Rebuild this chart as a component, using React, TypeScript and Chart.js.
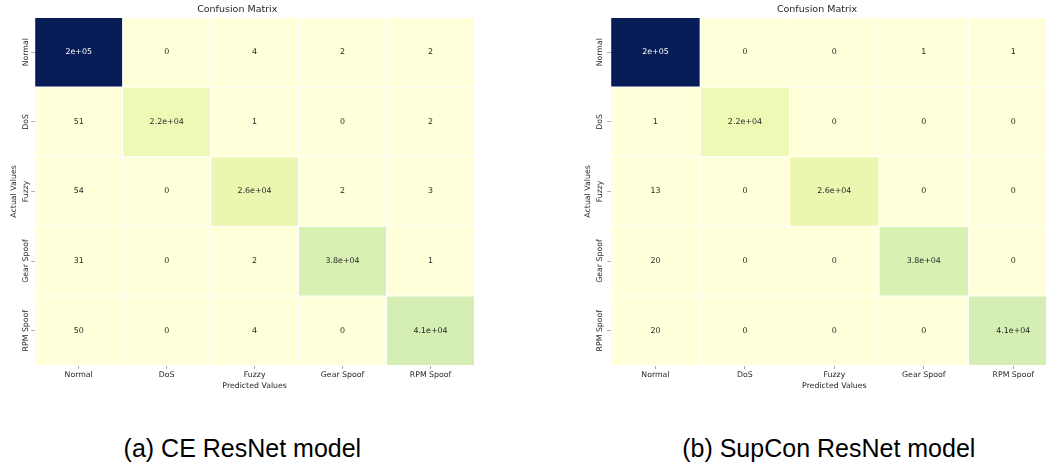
import React, { useEffect, useRef } from "react";
import { Chart, registerables } from "chart.js";

Chart.register(...registerables);

// ---- data ----
const predictedLabels = ["Normal", "DoS", "Fuzzy", "Gear Spoof", "RPM Spoof"];
const actualLabels = ["Normal", "DoS", "Fuzzy", "Gear Spoof", "RPM Spoof"];

// CE ResNet model (rows = actual, cols = predicted)
const ceNormal = [200000, 0, 4, 2, 2];
const ceDoS = [51, 22000, 1, 0, 2];
const ceFuzzy = [54, 0, 26000, 2, 3];
const ceGear = [31, 0, 2, 38000, 1];
const ceRPM = [50, 0, 4, 0, 41000];

// SupCon ResNet model
const scNormal = [200000, 0, 0, 1, 1];
const scDoS = [1, 22000, 0, 0, 0];
const scFuzzy = [13, 0, 26000, 0, 0];
const scGear = [20, 0, 0, 38000, 0];
const scRPM = [20, 0, 0, 0, 41000];

const chartTitle = "Confusion Matrix";
const xTitle = "Predicted Values";
const yTitle = "Actual Values";
const captionA = "(a) CE ResNet model";
const captionB = "(b) SupCon ResNet model";

// ---- styling helpers ----
const YLGNBU = ["#ffffd9", "#edf8b1", "#c7e9b4", "#7fcdbb", "#41b6c4", "#1d91c0", "#225ea8", "#253494", "#081d58"];

function hexToRgb(h: string) {
  return [parseInt(h.slice(1, 3), 16), parseInt(h.slice(3, 5), 16), parseInt(h.slice(5, 7), 16)];
}

function cmap(t: number) {
  const tt = Math.max(0, Math.min(1, t)) * (YLGNBU.length - 1);
  const i = Math.min(Math.floor(tt), YLGNBU.length - 2);
  const f = tt - i;
  const a = hexToRgb(YLGNBU[i]);
  const b = hexToRgb(YLGNBU[i + 1]);
  return a.map((v, k) => Math.round(v + (b[k] - v) * f));
}

function luminance(c: number[]) {
  const l = c.map((v) => {
    const s = v / 255;
    return s <= 0.03928 ? s / 12.92 : Math.pow((s + 0.055) / 1.055, 2.4);
  });
  return 0.2126 * l[0] + 0.7152 * l[1] + 0.0722 * l[2];
}

function fmt2g(v: number): string {
  if (v === 0) return "0";
  let e = Math.floor(Math.log10(Math.abs(v)));
  if (e < -4 || e >= 2) {
    let m = Number((v / Math.pow(10, e)).toFixed(1));
    if (Math.abs(m) >= 10) {
      m = m / 10;
      e += 1;
    }
    return String(m) + "e" + (e < 0 ? "-" : "+") + String(Math.abs(e)).padStart(2, "0");
  }
  return String(Number(v.toPrecision(2)));
}

const FONT = "DejaVu Sans";
const TEXT = "#262626";

type MatrixProps = {
  rows: number[][];
  left: number;
  width: number;
  padRight: number;
  yTitlePad: number;
  yTickPad: number;
};

function Matrix({ rows, left, width, padRight, yTitlePad, yTickPad }: MatrixProps) {
  const ref = useRef<HTMLCanvasElement | null>(null);

  useEffect(() => {
    if (!ref.current) return;
    const vmax = Math.max(...rows.flat());
    const colorOf = (v: number) => cmap(v / vmax);

    const datasets = rows.map((row, r) => ({
      label: actualLabels[r],
      data: row.map(() => [r, r + 1]),
      backgroundColor: row.map((v) => {
        const c = colorOf(v);
        return `rgb(${c[0]},${c[1]},${c[2]})`;
      }),
      borderColor: "#ffffff",
      borderWidth: 0.5,
      borderSkipped: false as const,
      inflateAmount: 0,
      barPercentage: 1,
      categoryPercentage: 1,
      grouped: false,
    }));

    const annot = {
      id: "annot",
      afterDatasetsDraw(chart: any) {
        const ctx = chart.ctx;
        ctx.save();
        ctx.font = `7.9px "${FONT}"`;
        ctx.textAlign = "center";
        ctx.textBaseline = "middle";
        rows.forEach((row, r) => {
          const meta = chart.getDatasetMeta(r);
          meta.data.forEach((el: any, j: number) => {
            const p = el.getProps(["x", "y", "base"], true);
            const v = row[j];
            const lum = luminance(colorOf(v));
            ctx.fillStyle = lum > 0.408 ? "#262626" : "#ffffff";
            ctx.fillText(fmt2g(v), p.x, (p.y + p.base) / 2);
          });
        });
        ctx.restore();
      },
    };

    const chart = new Chart(ref.current, {
      type: "bar",
      data: { labels: predictedLabels, datasets: datasets as any },
      plugins: [annot],
      options: {
        animation: false,
        responsive: true,
        maintainAspectRatio: false,
        events: [],
        layout: { padding: { left: 0, right: padRight, top: 0, bottom: 0 } },
        plugins: {
          legend: { display: false },
          tooltip: { enabled: false },
          title: {
            display: true,
            text: chartTitle,
            color: TEXT,
            font: { family: FONT, size: 9.5, weight: "normal" },
            padding: { top: 4, bottom: 2 },
          },
        },
        scales: {
          x: {
            type: "category",
            offset: true,
            border: { display: false },
            grid: {
              display: true,
              drawOnChartArea: false,
              drawTicks: true,
              tickLength: 3.5,
              offset: false,
              color: "#999999",
              lineWidth: 0.8,
            },
            ticks: {
              color: TEXT,
              font: { family: FONT, size: 7.8 },
              padding: 1.5,
              maxRotation: 0,
              minRotation: 0,
              autoSkip: false,
            },
            title: {
              display: true,
              text: xTitle,
              color: TEXT,
              font: { family: FONT, size: 7.8 },
              padding: { top: 0, bottom: 9.7 },
            },
            afterFit(scale: any) {
              scale.height = 34.5;
            },
          },
          y: {
            type: "linear",
            min: 0,
            max: 5,
            reverse: true,
            border: { display: false },
            grid: {
              display: true,
              drawOnChartArea: false,
              drawTicks: true,
              tickLength: 3.5,
              color: "#999999",
              lineWidth: 0.8,
            },
            afterBuildTicks(scale: any) {
              scale.ticks = actualLabels.map((_, i) => ({ value: i + 0.5 }));
            },
            ticks: {
              color: TEXT,
              font: { family: FONT, size: 7.8 },
              minRotation: 90,
              maxRotation: 90,
              crossAlign: "center",
              padding: yTickPad,
              autoSkip: false,
              callback: (value: any) => actualLabels[Math.floor(Number(value))],
            },
            title: {
              display: true,
              text: yTitle,
              color: TEXT,
              font: { family: FONT, size: 7.8 },
              padding: { top: yTitlePad, bottom: 0 },
            },
            afterFit(scale: any) {
              scale.width = 34.7;
            },
          },
        },
      } as any,
    });
    return () => chart.destroy();
  }, [rows, padRight, yTitlePad, yTickPad]);

  return (
    <div style={{ position: "absolute", left, top: 0, width, height: 400 }}>
      <canvas ref={ref} />
    </div>
  );
}

const rowsA = [ceNormal, ceDoS, ceFuzzy, ceGear, ceRPM];
const rowsB = [scNormal, scDoS, scFuzzy, scGear, scRPM];

const captionStyle: React.CSSProperties = {
  position: "absolute",
  top: 435.5,
  width: 400,
  height: 25,
  lineHeight: "25px",
  textAlign: "center",
  fontFamily: '"Liberation Sans", Arial, sans-serif',
  fontSize: 25,
  color: "#000",
  whiteSpace: "nowrap",
};

export default function App() {
  return (
    <div
      style={{
        position: "fixed",
        left: 0,
        top: 0,
        width: 1046,
        height: 465,
        overflow: "hidden",
        background: "#ffffff",
      }}
    >
      <Matrix rows={rowsA} left={0} width={530} padRight={55.5} yTitlePad={8.9} yTickPad={-17} />
      <Matrix rows={rowsB} left={576} width={530} padRight={48} yTitlePad={7.7} yTickPad={-15} />
      <div style={{ ...captionStyle, left: 242.4 - 200 }}>{captionA}</div>
      <div style={{ ...captionStyle, left: 828.8 - 200 }}>{captionB}</div>
    </div>
  );
}
